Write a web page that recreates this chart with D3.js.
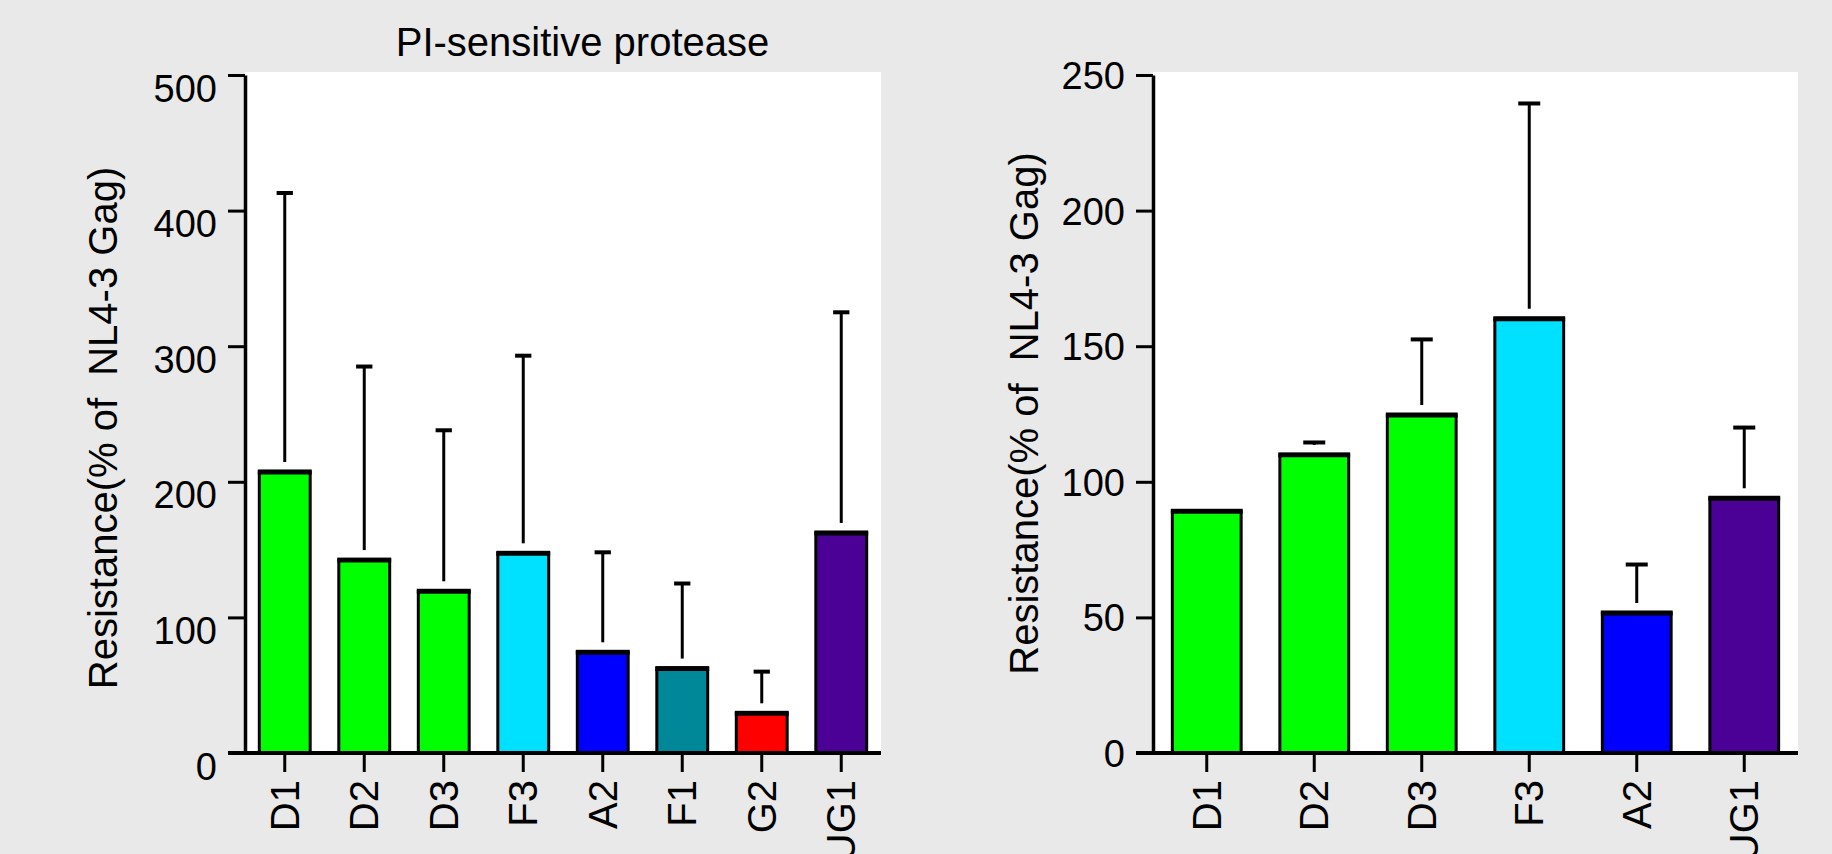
<!DOCTYPE html>
<meta charset="utf-8">
<script src="https://d3js.org/d3.v7.min.js"></script>
<style>
  body { margin: 0; background: #e9e9e9; }
  svg { display: block; font-family: "Liberation Sans", Arial, sans-serif; }
</style>
<body>
<div id="chart"></div>
<script>

// left panel (PI-sensitive protease)
var leftCats = ["D1", "D2", "D3", "F3", "A2", "F1", "G2", "UG1"];
var leftMeans = [208, 143, 120, 148, 75, 63, 30, 163];
var leftErrs = [205, 142, 118, 145, 73, 62, 30, 162];
var leftColors = ["#00ff00", "#00ff00", "#00ff00", "#00e1ff", "#0000ff", "#008898", "#ff0000", "#4b0096"];
var leftTicks = [0, 100, 200, 300, 400, 500];

// right panel
var rightCats = ["D1", "D2", "D3", "F3", "A2", "UG1"];
var rightMeans = [89.5, 110.3, 125, 160.5, 52, 94.3];
var rightErrs = [0, 4.2, 27.5, 79, 17.5, 25.7];
var rightColors = ["#00ff00", "#00ff00", "#00ff00", "#00e1ff", "#0000ff", "#4b0096"];
var rightTicks = [0, 50, 100, 150, 200, 250];

var yTitle = "Resistance(% of  NL4-3 Gag)";
var leftHeading = "PI-sensitive protease";

var svg = d3.select("#chart")
  .append("svg")
    .attr("width", 1832)
    .attr("height", 854);

svg.append("rect")
  .attr("width", 1832)
  .attr("height", 854)
  .attr("fill", "#e9e9e9");

function drawPanel(p) {
  var x = d3.scaleBand()
    .domain(p.cats)
    .range([p.x0, p.x1])
    .paddingInner(0.36)
    .paddingOuter(0.18);
  var yMax = d3.max(p.ticks);
  var y = d3.scaleLinear()
    .domain([0, yMax])
    .range([753, 75]);
  var bw = x.bandwidth();
  var rows = p.cats.map(function(c, i) {
    return {cat: c, mean: p.means[i], err: p.errs[i], color: p.colors[i]};
  });

  var g = svg.append("g");

  // white plot area
  g.append("rect")
    .attr("x", p.x0)
    .attr("y", y(yMax) - 3)
    .attr("width", p.x1 - p.x0)
    .attr("height", y(0) - y(yMax) + 3)
    .attr("fill", "#fff");

  // error bars (upper only, stem starts a little above the bar)
  var capW = bw * 0.32;
  var eb = g.append("g").selectAll("g")
    .data(rows.filter(function(d) { return d.err > 0; }))
    .enter().append("g");
  eb.filter(function(d) { return y(d.mean) - 9 > y(d.mean + d.err); })
    .append("line")
      .attr("x1", function(d) { return x(d.cat) + bw / 2; })
      .attr("x2", function(d) { return x(d.cat) + bw / 2; })
      .attr("y1", function(d) { return y(d.mean + d.err); })
      .attr("y2", function(d) { return y(d.mean) - 9; })
      .attr("stroke", "#000")
      .attr("stroke-width", 3);
  eb.append("line")
    .attr("x1", function(d) { return x(d.cat) + bw / 2 - capW / 2; })
    .attr("x2", function(d) { return x(d.cat) + bw / 2 + capW / 2; })
    .attr("y1", function(d) { return y(d.mean + d.err); })
    .attr("y2", function(d) { return y(d.mean + d.err); })
    .attr("stroke", "#000")
    .attr("stroke-width", 4);

  // bars
  g.append("g").selectAll("rect")
    .data(rows)
    .enter().append("rect")
      .attr("x", function(d) { return x(d.cat); })
      .attr("y", function(d) { return y(d.mean); })
      .attr("width", bw)
      .attr("height", function(d) { return y(0) - y(d.mean); })
      .attr("fill", function(d) { return d.color; })
      .attr("stroke", "#000")
      .attr("stroke-width", 3);
  g.append("g").selectAll("line")
    .data(rows)
    .enter().append("line")
      .attr("x1", function(d) { return x(d.cat) - 1.5; })
      .attr("x2", function(d) { return x(d.cat) + bw + 1.5; })
      .attr("y1", function(d) { return y(d.mean) + 1.5; })
      .attr("y2", function(d) { return y(d.mean) + 1.5; })
      .attr("stroke", "#000")
      .attr("stroke-width", 4);

  // y axis
  var ya = g.append("g")
    .attr("transform", "translate(" + p.x0 + ",0)")
    .call(d3.axisLeft(y).tickValues(p.ticks).tickSize(17).tickSizeOuter(0).tickPadding(11));
  ya.select(".domain").attr("stroke", "#000").attr("stroke-width", 3.5);
  ya.selectAll(".tick line").attr("stroke", "#000").attr("stroke-width", 3);
  ya.selectAll(".tick text")
    .attr("dy", p.labelDy)
    .attr("fill", "#000")
    .style("font-size", "38px")
    .style("font-family", "'Liberation Sans', Arial, sans-serif");

  // x axis
  var xa = g.append("g")
    .attr("transform", "translate(0," + y(0) + ")")
    .call(d3.axisBottom(x).tickSize(19).tickSizeOuter(0));
  xa.select(".domain").remove();
  xa.selectAll(".tick line").attr("stroke", "#000").attr("stroke-width", 3);
  xa.selectAll(".tick text")
    .attr("x", 0)
    .attr("y", 0)
    .attr("dy", 0)
    .attr("text-anchor", "end")
    .attr("transform", "translate(14,27) rotate(-90)")
    .attr("fill", "#000")
    .style("font-size", "40px")
    .style("font-family", "'Liberation Sans', Arial, sans-serif");
  g.append("line")
    .attr("x1", p.x0 - 17)
    .attr("x2", p.x1)
    .attr("y1", y(0))
    .attr("y2", y(0))
    .attr("stroke", "#000")
    .attr("stroke-width", 4);

  // y title
  g.append("text")
    .attr("transform", "translate(" + p.titleX + "," + p.titleY + ") rotate(-90)")
    .attr("text-anchor", "middle")
    .style("font-size", "40px")
    .style("white-space", "pre")
    .text(yTitle);

  if (p.heading) {
    g.append("text")
      .attr("x", p.headX)
      .attr("y", 55.7)
      .attr("text-anchor", "middle")
      .style("font-size", "40px")
      .text(p.heading);
  }
}

drawPanel({
  cats: leftCats, means: leftMeans, errs: leftErrs, colors: leftColors, ticks: leftTicks,
  x0: 245, x1: 881, labelDy: 26, titleX: 116.7, titleY: 428,
  heading: leftHeading, headX: 582.5
});

drawPanel({
  cats: rightCats, means: rightMeans, errs: rightErrs, colors: rightColors, ticks: rightTicks,
  x0: 1153, x1: 1798, labelDy: 13.5, titleX: 1038, titleY: 413.5
});

</script>
</body>
